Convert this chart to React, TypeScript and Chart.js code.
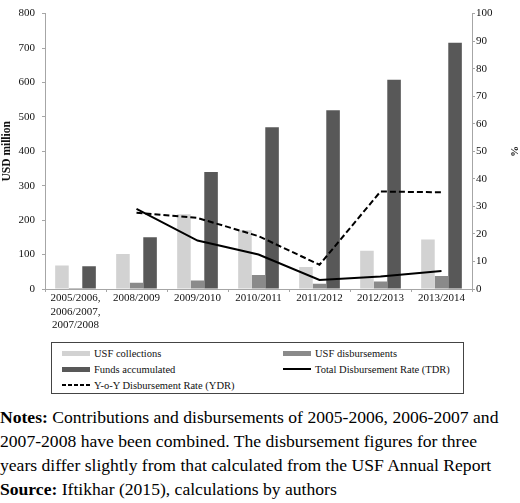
import { useRef, useEffect } from 'react';
import Chart from 'chart.js/auto';

const categories: (string | string[])[] = [
  ['2005/2006,', '2006/2007,', '2007/2008'],
  '2008/2009',
  '2009/2010',
  '2010/2011',
  '2011/2012',
  '2012/2013',
  '2013/2014',
];

// USD million (left axis)
const collections = [68, 102, 217, 171, 64, 111, 144];
const disbursements = [3, 18, 25, 41, 15, 22, 38];
const fundsAccumulated = [66, 150, 340, 470, 519, 608, 715];

// % (right axis)
const tdr = [null, 29.1, 17.6, 12.5, 3.3, 4.5, 6.5];
const ydr = [null, 27.7, 25.8, 19.2, 8.8, 35.4, 35.1];

const seriesNames = [
  'USF collections',
  'USF disbursements',
  'Funds accumulated',
  'Total Disbursement Rate (TDR)',
  'Y-o-Y Disbursement Rate (YDR)',
];

const LIGHT = '#d2d2d2';
const MID = '#8a8a8a';
const DARK = '#585858';
const AXIS = '#a6a6a6';
const FONT = '"Liberation Serif", "Times New Roman", serif';

const LegendSwatch = ({ kind, color }: { kind: 'bar' | 'line' | 'dash'; color: string }) => {
  if (kind === 'bar') {
    return <span style={{ display: 'inline-block', width: 28, height: 5, background: color }} />;
  }
  return (
    <svg width={28} height={6} style={{ display: 'block' }}>
      <line
        x1={0}
        y1={3}
        x2={28}
        y2={3}
        stroke={color}
        strokeWidth={2}
        strokeDasharray={kind === 'dash' ? '4 2' : undefined}
      />
    </svg>
  );
};

const LegendItem = ({ x, y, kind, color, label }: { x: number; y: number; kind: 'bar' | 'line' | 'dash'; color: string; label: string }) => (
  <div
    style={{
      position: 'absolute',
      left: x,
      top: y - 8,
      height: 16,
      display: 'flex',
      alignItems: 'center',
      gap: 4,
      whiteSpace: 'nowrap',
      fontFamily: FONT,
      fontSize: 10.5,
      color: '#111',
    }}
  >
    <LegendSwatch kind={kind} color={color} />
    <span>{label}</span>
  </div>
);

const App = () => {
  const chartRef = useRef<HTMLCanvasElement | null>(null);
  const chartInstance = useRef<Chart | null>(null);

  useEffect(() => {
    if (!chartRef.current) return;
    if (chartInstance.current) chartInstance.current.destroy();

    const tickFont = { family: FONT, size: 11, lineHeight: 1.2 };

    chartInstance.current = new Chart(chartRef.current, {
      type: 'bar',
      data: {
        labels: categories,
        datasets: [
          { type: 'line', label: seriesNames[3], data: tdr, yAxisID: 'y1', borderColor: '#000', borderWidth: 2, pointRadius: 0, tension: 0, order: 0 },
          { type: 'line', label: seriesNames[4], data: ydr, yAxisID: 'y1', borderColor: '#000', borderWidth: 2, borderDash: [6, 3], pointRadius: 0, tension: 0, order: 0 },
          { label: seriesNames[0], data: collections, backgroundColor: LIGHT, yAxisID: 'y', order: 1 },
          { label: seriesNames[1], data: disbursements, backgroundColor: MID, yAxisID: 'y', order: 1 },
          { label: seriesNames[2], data: fundsAccumulated, backgroundColor: DARK, yAxisID: 'y', order: 1 },
        ],
      },
      options: {
        animation: false,
        responsive: true,
        maintainAspectRatio: false,
        layout: { padding: 0 },
        datasets: {
          bar: { categoryPercentage: 0.667, barPercentage: 1 },
        },
        plugins: {
          legend: { display: false },
          tooltip: { enabled: false },
        },
        scales: {
          x: {
            offset: true,
            border: { color: AXIS },
            grid: { offset: true, drawOnChartArea: false, drawTicks: true, tickLength: 3, color: AXIS },
            ticks: { color: '#111', font: tickFont, padding: 0, maxRotation: 0, autoSkip: false },
            afterFit: (scale: any) => {
              scale.height = 46;
            },
          },
          y: {
            position: 'left',
            min: 0,
            max: 800,
            border: { color: AXIS },
            grid: { drawOnChartArea: false, drawTicks: true, tickLength: 3, color: AXIS },
            ticks: { stepSize: 100, color: '#111', font: tickFont, padding: 7 },
            title: {
              display: true,
              text: 'USD million',
              color: '#111',
              font: { family: FONT, size: 11.5, weight: 'bold', lineHeight: 1.2 },
              padding: 0,
            },
            afterFit: (scale: any) => {
              scale.width = 45;
            },
          },
          y1: {
            position: 'right',
            min: 0,
            max: 100,
            border: { color: AXIS },
            grid: { drawOnChartArea: false, drawTicks: true, tickLength: 3, color: AXIS },
            ticks: { stepSize: 10, color: '#111', font: tickFont, padding: 1 },
            title: {
              display: true,
              text: '%',
              color: '#111',
              font: { family: FONT, size: 11, weight: 'bold', lineHeight: 1.2 },
              padding: 0,
            },
            afterFit: (scale: any) => {
              scale.width = 48;
            },
          },
        },
      },
    });

    return () => {
      if (chartInstance.current) {
        chartInstance.current.destroy();
        chartInstance.current = null;
      }
    };
  }, []);

  return (
    <div style={{ position: 'absolute', left: 0, top: 0, width: 520, height: 503, background: '#fff', overflow: 'hidden' }}>
      <div style={{ position: 'absolute', left: 0, top: 0, width: 520, height: 335 }}>
        <canvas ref={chartRef}></canvas>
      </div>
      <div
        style={{
          position: 'absolute',
          left: 51,
          top: 342,
          width: 413,
          height: 52,
          border: '1px solid #444',
          boxSizing: 'border-box',
        }}
      />
      <LegendItem x={62} y={353} kind="bar" color={LIGHT} label={seriesNames[0]} />
      <LegendItem x={283} y={353} kind="bar" color={MID} label={seriesNames[1]} />
      <LegendItem x={62} y={369} kind="bar" color={DARK} label={seriesNames[2]} />
      <LegendItem x={283} y={369} kind="line" color="#000" label={seriesNames[3]} />
      <LegendItem x={62} y={385} kind="dash" color="#000" label={seriesNames[4]} />
      <div
        style={{
          position: 'absolute',
          left: 0,
          top: 405,
          width: 520,
          fontFamily: FONT,
          fontSize: 17.6,
          lineHeight: '24px',
          color: '#000',
          whiteSpace: 'nowrap',
        }}
      >
        <div>
          <b>Notes:</b> Contributions and disbursements of 2005-2006, 2006-2007 and
        </div>
        <div>2007-2008 have been combined. The disbursement figures for three</div>
        <div>years differ slightly from that calculated from the USF Annual Report</div>
        <div>
          <b>Source:</b> Iftikhar (2015), calculations by authors
        </div>
      </div>
    </div>
  );
};

export default App;
